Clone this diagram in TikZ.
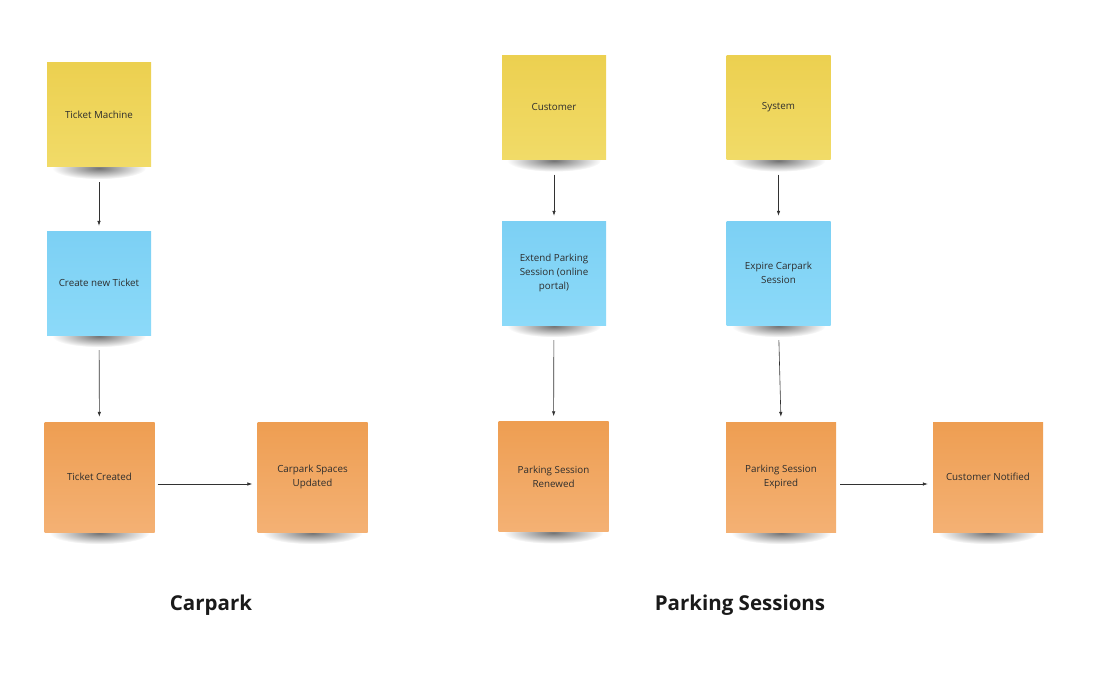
\documentclass[tikz,border=0pt]{standalone}
\usepackage{fontspec}
\setmainfont{Open Sans}
\usetikzlibrary{arrows.meta}
\usetikzlibrary{backgrounds}
\definecolor{yellowtop}{RGB}{236,208,80}
\definecolor{yellowbot}{RGB}{241,219,104}
\definecolor{bluetop}{RGB}{124,208,244}
\definecolor{bluebot}{RGB}{140,218,249}
\definecolor{orangetop}{RGB}{238,158,82}
\definecolor{orangebot}{RGB}{244,177,116}
\definecolor{notetext}{RGB}{45,45,45}
\definecolor{arrowgray}{RGB}{50,50,50}
\tikzset{
  note/.style = {align=center, inner sep=0pt, text centered,
    font=\fontsize{9.8}{14}\selectfont, text=notetext},
  yellow_note/.style = {note, minimum width=104pt, minimum height=104pt,
    top color=yellowtop, bottom color=yellowbot},% acteur
  blue_note/.style = {note, minimum width=104pt, minimum height=104pt,
    top color=bluetop, bottom color=bluebot},% commande
  orange_note/.style = {note, minimum width=110pt, minimum height=110pt,
    top color=orangetop, bottom color=orangebot},% evenement
  note_shadow/.style = {shading=radial, inner color=black!55, outer color=white},
  flow/.style = {draw=arrowgray, line width=0.6pt,
    -{Latex[length=5pt,width=3.5pt]}, shorten <=15pt, shorten >=5pt},
  area_title/.style = {font=\fontsize{20.5}{24}\selectfont\bfseries, text=black!90}
}
\begin{document}
\begin{tikzpicture}[x=1pt, y=-1pt]
  \useasboundingbox (0,0) rectangle (1106,690);
  % Carpark
  \node [yellow_note] (tm) at (99,115) {Ticket Machine};
  \node [blue_note] (cnt) at (99,283) {Create new Ticket};
  \node [orange_note] (tc) at (99.5,477) {Ticket Created};
  \node [orange_note] (csu) at (312.5,477) {Carpark Spaces\\Updated};
  % Parking Sessions
  \node [yellow_note] (cust) at (554,107.5) {Customer};
  \node [blue_note] (eps) at (554,273) {Extend Parking\\Session (online\\portal)};
  \node [orange_note] (psr) at (553.5,476.5) {Parking Session\\Renewed};
  \node [yellow_note] (sys) at (778.5,107.5) {System};
  \node [blue_note] (ecs) at (778.5,273) {Expire Carpark\\Session};
  \node [orange_note] (pse) at (781,477) {Parking Session\\Expired};
  \node [orange_note] (cn) at (988,477) {Customer Notified};
  % shadows
  \begin{scope}[on background layer]
    \foreach \n/\w in {tm/47, cnt/47, tc/50, csu/50, cust/47, eps/47, psr/50,
        sys/47, ecs/47, pse/50, cn/50}
      \shade [note_shadow] ([yshift=-1pt]\n.south) ellipse [x radius=\w pt, y radius=11pt];
  \end{scope}
  % connectors
  \draw [flow] (tm) -- (cnt);
  \draw [flow] (cnt) -- (tc);
  \draw [flow, shorten <=3pt] ([yshift=-7pt]tc.east) -- ([yshift=-7pt]csu.west);
  \draw [flow] (cust) -- (eps);
  \draw [flow] (eps) -- (psr);
  \draw [flow] (sys) -- (ecs);
  \draw [flow] (ecs.south) -- (pse.north);
  \draw [flow, shorten <=4pt] ([yshift=-7pt]pse.east) -- ([yshift=-7pt]cn.west);
  % titles
  \node [area_title] (carpark) at (211,605) {Carpark};
  \node [area_title] (sessions) at (740,605) {Parking Sessions};
\end{tikzpicture}
\end{document}
